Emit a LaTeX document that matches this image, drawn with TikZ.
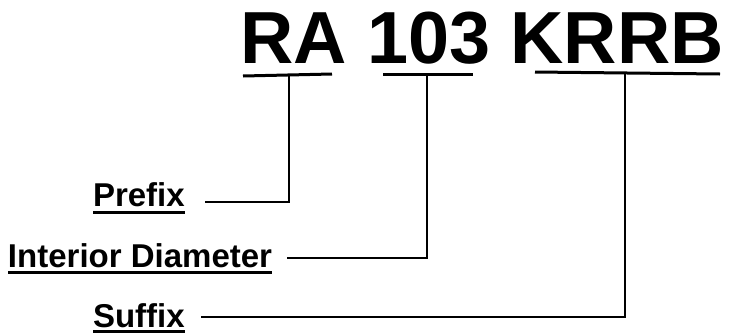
\documentclass[tikz,border=0pt]{standalone}
\usepackage{fontspec}
\setmainfont{Liberation Sans}
\newfontfamily\heavy{Liberation Sans Bold}
\begin{document}
\begin{tikzpicture}[
        x=1pt, y=-1pt,
        every node/.style={inner sep=0pt, outer sep=0pt, anchor=base west},
        code/.style={font=\heavy\fontsize{73.8}{73.8}\selectfont},
        label/.style={font=\heavy\fontsize{33}{33}\selectfont},
        bar/.style={draw, line width=3pt},
        lead/.style={draw, line width=2.5pt},
    ]
    \useasboundingbox (0,0) rectangle (729,333);

    % part number
    \node[code](code) at (240,63){RA 103 KRRB};

    % labels
    \node[label](prefix) at (93,206){Prefix};
    \node[label](diam) at (8,267){Interior Diameter};
    \node[label](suffix) at (93,327){Suffix};

    % bars under the groups
    \coordinate (ra1) at (243,76);
    \coordinate (ra2) at (332,74);
    \coordinate (num1) at (383,74);
    \coordinate (num2) at (473,74);
    \coordinate (krrb1) at (535,72);
    \coordinate (krrb2) at (720,74);
    \path[bar] (ra1) -- (ra2);
    \path[bar] (num1) -- (num2);
    \path[bar] (krrb1) -- (krrb2);

    % underlines of the labels
    \path[bar] ([yshift=-6]prefix.base west) -- ([yshift=-6]prefix.base east);
    \path[bar] ([yshift=-5]diam.base west) -- ([yshift=-5]diam.base east);
    \path[bar] ([yshift=-4.5]suffix.base west) -- ([yshift=-4.5]suffix.base east);

    % leads
    \coordinate (ra) at (289,75);
    \coordinate (num) at (427,74);
    \coordinate (krrb) at (625,73);
    \coordinate (pend) at (205,202);
    \coordinate (dend) at (287,258);
    \coordinate (send) at (201,317);
    \path[lead] (ra) |- (pend);
    \path[lead] (num) |- (dend);
    \path[lead] (krrb) |- (send);
\end{tikzpicture}
\end{document}
